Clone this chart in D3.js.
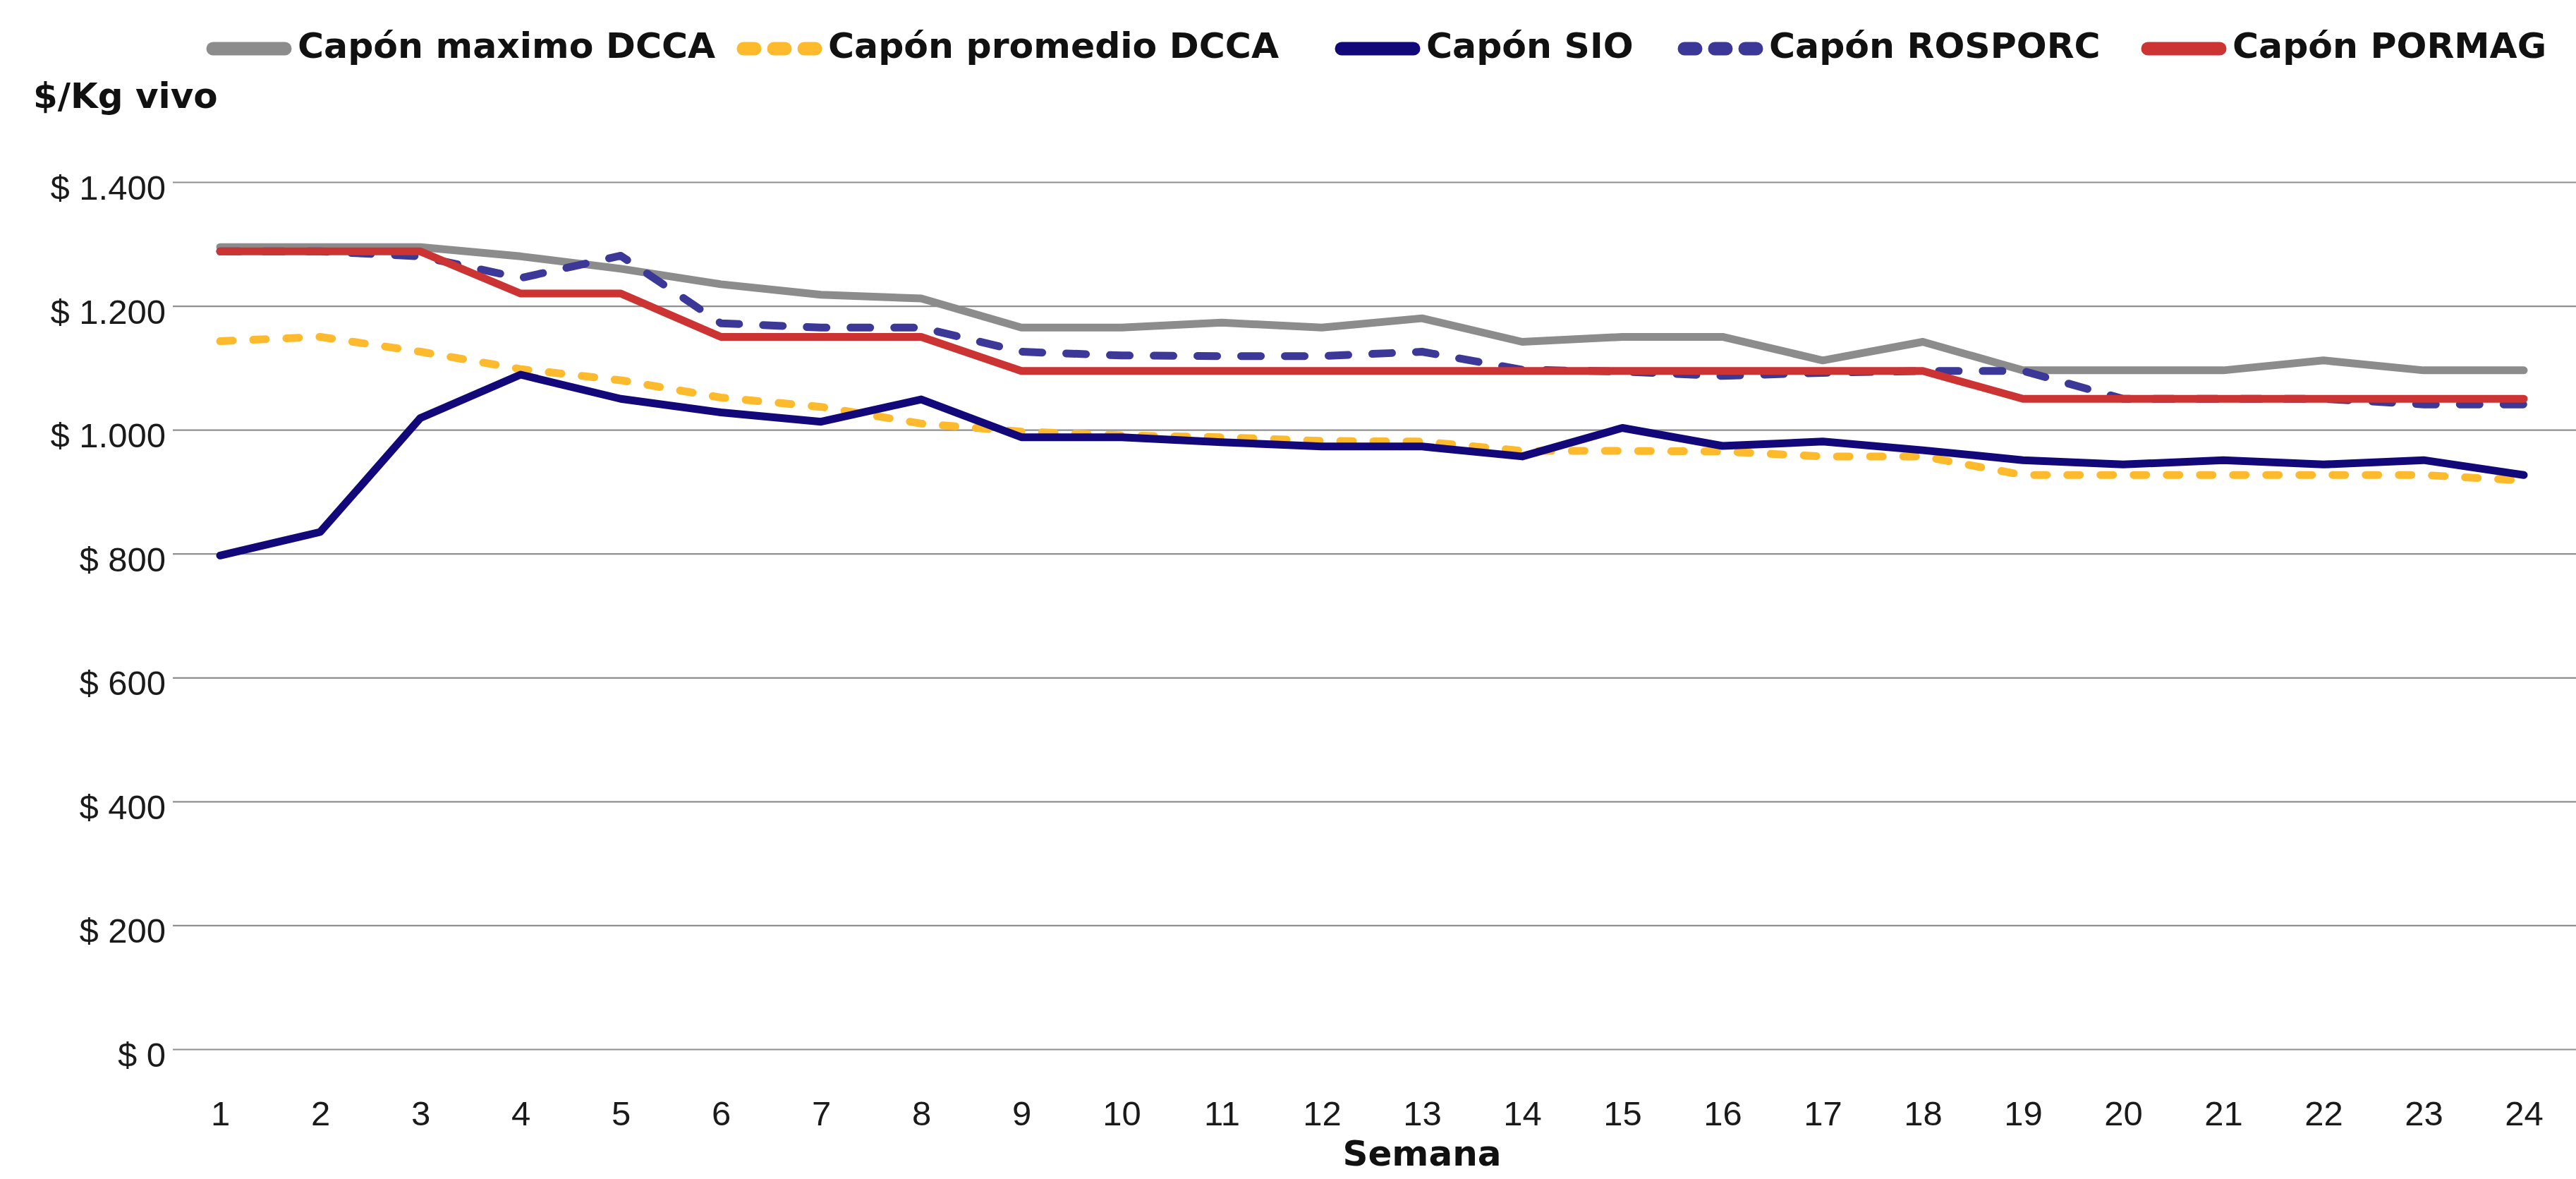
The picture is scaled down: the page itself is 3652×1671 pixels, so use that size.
<!DOCTYPE html>
<html>
<head>
<meta charset="utf-8">
<script src="https://cdn.jsdelivr.net/npm/d3@7"></script>
<style>
  html, body { margin: 0; padding: 0; background: #fff; }
  svg { display: block; font-family: "DejaVu Sans", sans-serif; }
</style>
</head>
<body>
<svg id="chart" width="3652" height="1671"></svg>
<script>
// DATA
const semanas = d3.range(1, 25);
const yTicks = [0, 200, 400, 600, 800, 1000, 1200, 1400];

const maximoDCCA   = [1295,1295,1295,1280,1260,1235,1218,1212,1165,1165,1173,1165,1180,1142,1150,1150,1112,1142,1096,1096,1096,1112,1096,1096];
const promedioDCCA = [1143,1150,1126,1098,1080,1052,1037,1010,997,991,988,982,981,966,966,965,957,957,927,927,927,927,927,918];
const sio          = [797,835,1019,1089,1050,1028,1013,1049,988,988,980,973,973,957,1003,974,981,967,951,944,951,944,951,927];
const rosporc      = [1288,1288,1280,1245,1281,1172,1165,1165,1126,1120,1119,1119,1126,1097,1094,1087,1092,1095,1095,1050,1050,1050,1041,1041];
const pormag       = [1288,1288,1288,1220,1220,1150,1150,1150,1095,1095,1095,1095,1095,1095,1095,1095,1095,1095,1050,1050,1050,1050,1050,1050];

const seriesNames  = ["Capón maximo DCCA", "Capón promedio DCCA", "Capón SIO", "Capón ROSPORC", "Capón PORMAG"];
const seriesValues = [maximoDCCA, promedioDCCA, sio, rosporc, pormag];

// STYLES
const colors = ["#8c8c8c", "#fdba2c", "#13087a", "#3b3898", "#cc3333"];
const dashes = [null, "18,29", null, "28,34", null];
const legendDash = [null, "16,27", null, "16,27", null];
const legendX = [292, 1044, 1892, 2378, 3035];

const svg = d3.select("#chart");

const x = d3.scalePoint().domain(semanas).range([312, 3578]);
const y = d3.scaleLinear().domain([0, 1400]).range([1487, 258]);

const locale = d3.formatLocale({decimal: ",", thousands: ".", grouping: [3], currency: ["$ ", ""]});
const fmt = locale.format("$,.0f");

//GRIDLINES + Y AXIS
const yAxis = svg.append("g")
    .attr("transform", "translate(245,0)")
    .call(d3.axisLeft(y).tickValues(yTicks).tickSize(-(3652 - 245)).tickPadding(10).tickFormat(fmt));
yAxis.select(".domain").remove();
yAxis.selectAll(".tick line").attr("stroke", "#8f8f8f").attr("stroke-width", 2.2);
yAxis.selectAll(".tick text")
    .attr("fill", "#1a1a1a")
    .attr("font-size", 49)
    .attr("dy", "0.5em");

//X AXIS
const xAxis = svg.append("g")
    .attr("transform", "translate(0,1487)")
    .call(d3.axisBottom(x).tickSize(0).tickPadding(92));
xAxis.select(".domain").remove();
xAxis.selectAll(".tick text")
    .attr("fill", "#1a1a1a")
    .attr("font-size", 49)
    .attr("dy", "0.32em");

//AXIS TITLES
svg.append("text").attr("x", 47).attr("y", 153)
    .attr("font-size", 50).attr("font-weight", 700).attr("fill", "#111")
    .text("$/Kg vivo");
svg.append("text").attr("x", 2016).attr("y", 1652).attr("text-anchor", "middle")
    .attr("font-size", 50).attr("font-weight", 700).attr("fill", "#111")
    .text("Semana");

//LINES
const line = d3.line().x((d, i) => x(semanas[i])).y(d => y(d));
svg.append("g").selectAll("path").data(seriesValues).enter().append("path")
    .attr("d", line)
    .attr("fill", "none")
    .attr("stroke", (d, i) => colors[i])
    .attr("stroke-width", 11)
    .attr("stroke-linejoin", "round")
    .attr("stroke-linecap", "round")
    .attr("stroke-dasharray", (d, i) => dashes[i]);

//LEGEND
const legend = svg.append("g").selectAll("g").data(seriesNames).enter().append("g")
    .attr("transform", (d, i) => "translate(" + legendX[i] + ",69)");
legend.append("line")
    .attr("x1", 10).attr("x2", 112).attr("y1", 0).attr("y2", 0)
    .attr("stroke", (d, i) => colors[i])
    .attr("stroke-width", 19)
    .attr("stroke-linecap", "round")
    .attr("stroke-dasharray", (d, i) => legendDash[i]);
legend.append("text")
    .attr("x", 130).attr("y", 13)
    .attr("font-size", 50.5).attr("font-weight", 700).attr("fill", "#111")
    .text(d => d);
</script>
</body>
</html>
